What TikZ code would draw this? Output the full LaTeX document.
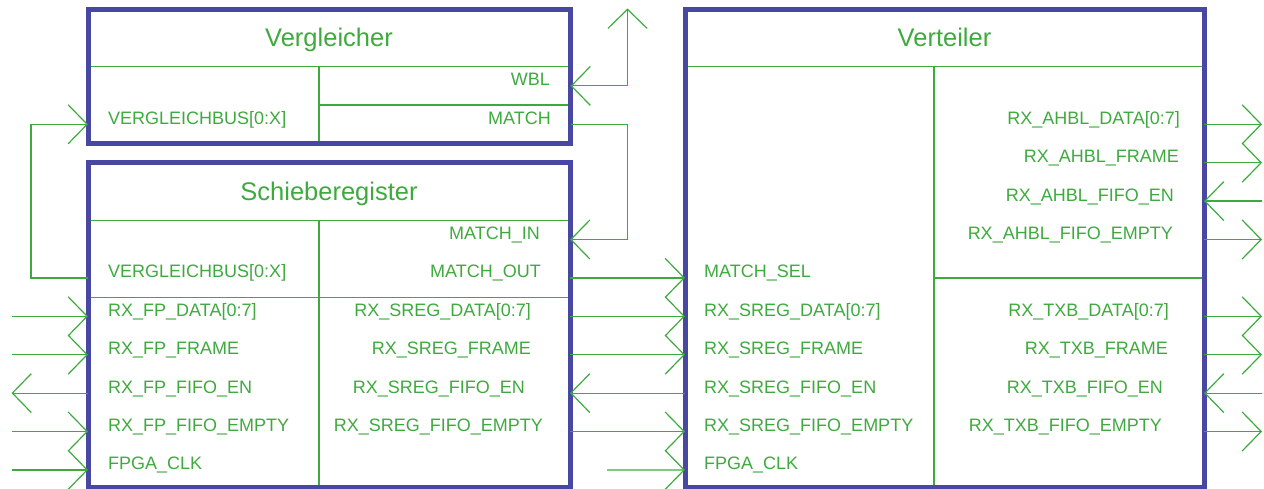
\documentclass[tikz,border=0pt]{standalone}
\usepackage{fontspec}
\setmainfont{Liberation Sans}
\usetikzlibrary{arrows.meta}

\definecolor{sig}{RGB}{62,170,62}
\definecolor{boxblue}{RGB}{72,72,162}

\begin{document}
\begin{tikzpicture}[x=1pt,y=-1pt,
	pinhead/.tip={Straight Barb[length=19pt,width=39pt]},
	block/.style={draw=boxblue,line width=5pt,inner sep=0pt},
	sep/.style={sig,line width=1.2pt},
	wire/.style={sig,line width=1.2pt,-pinhead},
	title/.style={text=sig,font=\fontsize{25.5}{28}\selectfont,anchor=base,inner sep=0pt},
	lpin/.style={text=sig,font=\fontsize{18}{20}\selectfont,anchor=base west,inner sep=0pt},
	rpin/.style={text=sig,font=\fontsize{18}{20}\selectfont,anchor=base east,inner sep=0pt}]
	\useasboundingbox (0,0) rectangle (1264,489);

	\node[block,minimum width=482.5pt,minimum height=133.5pt] (verg) at (329.25,76.75) {};
	\node[block,minimum width=482pt,minimum height=324pt] (sreg) at (329,325) {};
	\node[block,minimum width=519pt,minimum height=477pt] (vert) at (944.5,248.5) {};

	\node[title] (verg-title) at (329,46.5) {Vergleicher};
	\node[title] (sreg-title) at (329,200.7) {Schieberegister};
	\node[title] (vert-title) at (944.5,46.5) {Verteiler};

	% Trennlinien in den Bloecken
	\draw[sep] (90.5,66.7) -- (568,66.7) (319,66.7) -- (319,141) (319,105.1) -- (568,105.1);
	\draw[sep] (90.5,220.7) -- (567.5,220.7) (90.5,297.1) -- (567.5,297.1) (319,220.7) -- (319,484.5);
	\draw[sep] (687.5,66.7) -- (1201.5,66.7) (934,66.7) -- (934,484.5) (934,277.9) -- (1201.5,277.9);

	% Signalnamen
	\node[lpin] (verg-l0) at (108,124.3) {VERGLEICHBUS[0:X]};
	\node[rpin] (verg-r-1) at (550,85.9) {WBL};
	\node[rpin] (verg-r0) at (551,124.3) {MATCH};
	\foreach \k/\t in {4/{VERGLEICHBUS[0:X]},5/{RX\_FP\_DATA[0:7]},6/{RX\_FP\_FRAME},
		7/{RX\_FP\_FIFO\_EN},8/{RX\_FP\_FIFO\_EMPTY},9/{FPGA\_CLK}}
		\node[lpin] (sreg-l\k) at (108,{124.3+38.4*\k}) {\t};
	\foreach \k/\x/\t in {3/540/{MATCH\_IN},4/541/{MATCH\_OUT},5/531/{RX\_SREG\_DATA[0:7]},
		6/531/{RX\_SREG\_FRAME},7/525/{RX\_SREG\_FIFO\_EN},8/543/{RX\_SREG\_FIFO\_EMPTY}}
		\node[rpin] (sreg-r\k) at (\x,{124.3+38.4*\k}) {\t};
	\foreach \k/\t in {4/{MATCH\_SEL},5/{RX\_SREG\_DATA[0:7]},6/{RX\_SREG\_FRAME},
		7/{RX\_SREG\_FIFO\_EN},8/{RX\_SREG\_FIFO\_EMPTY},9/{FPGA\_CLK}}
		\node[lpin] (vert-l\k) at (704,{124.3+38.4*\k}) {\t};
	\foreach \k/\x/\t in {0/1180/{RX\_AHBL\_DATA[0:7]},1/1179/{RX\_AHBL\_FRAME},2/1174/{RX\_AHBL\_FIFO\_EN},
		3/1173/{RX\_AHBL\_FIFO\_EMPTY},5/1169/{RX\_TXB\_DATA[0:7]},6/1168/{RX\_TXB\_FRAME},
		7/1163/{RX\_TXB\_FIFO\_EN},8/1162/{RX\_TXB\_FIFO\_EMPTY}}
		\node[rpin] (vert-r\k) at (\x,{124.3+38.4*\k}) {\t};

	% Rueckkopplungen zwischen Vergleicher und Schieberegister
	\coordinate (wbl-top) at (627.5,8.5);
	\coordinate (verg-wbl) at (570.5,85.9);
	\coordinate (verg-match) at (570.5,124.3);
	\coordinate (verg-vbus) at (88,124.3);
	\coordinate (sreg-matchin) at (570,239.5);
	\coordinate (sreg-vbus) at (88,277.9);
	\draw[sep,pinhead-pinhead] (wbl-top) |- (verg-wbl);
	\draw[wire] (verg-match) -- ++(57,0) |- (sreg-matchin);
	\draw[wire] (sreg-vbus) -- ++(-57,0) |- (verg-vbus);

	% Eingaenge Schieberegister
	\foreach \k in {5,...,9} {
		\coordinate (sreg-in\k) at (88,{124.3+38.4*\k});
		\coordinate (fp\k) at (11.5,{124.3+38.4*\k});
	}
	\foreach \k in {5,6,8,9}
		\draw[wire] (fp\k) -- (sreg-in\k);
	\draw[wire] (sreg-in7) -- (fp7);

	% Schieberegister -> Verteiler
	\foreach \k in {4,...,9} {
		\coordinate (sreg-out\k) at (570,{124.3+38.4*\k});
		\coordinate (vert-in\k) at (685,{124.3+38.4*\k});
	}
	\coordinate (clk) at (607,469.9);
	\foreach \k in {4,5,6,8}
		\draw[wire] (sreg-out\k) -- (vert-in\k);
	\draw[wire] (vert-in7) -- (sreg-out7);
	\draw[wire] (clk) -- (vert-in9);

	% Ausgaenge Verteiler
	\foreach \k in {0,1,2,3,5,6,7,8} {
		\coordinate (vert-out\k) at (1204,{124.3+38.4*\k});
		\coordinate (ext\k) at (1262,{124.3+38.4*\k});
	}
	\foreach \k in {0,1,3,5,6,8}
		\draw[wire] (vert-out\k) -- (ext\k);
	\foreach \k in {2,7}
		\draw[wire] (ext\k) -- (vert-out\k);
\end{tikzpicture}
\end{document}
